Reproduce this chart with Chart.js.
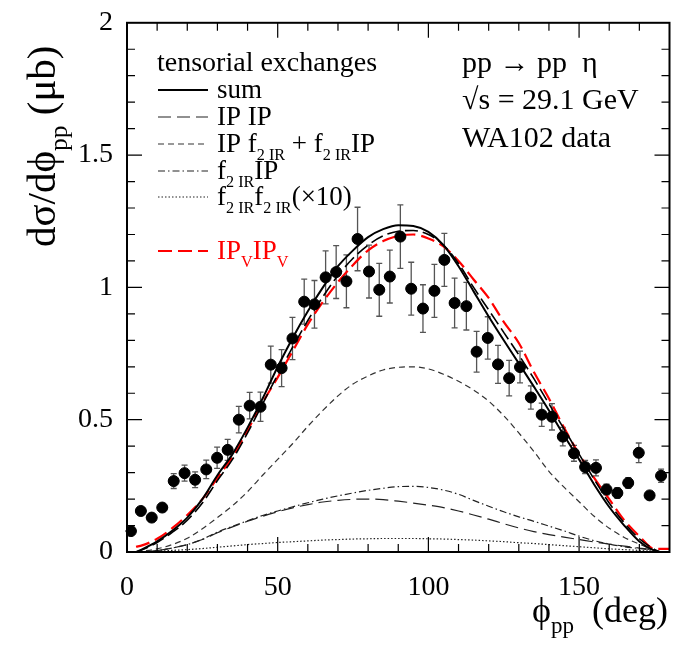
<!DOCTYPE html>
<html>
<head>
<meta charset="utf-8">
<script src="https://cdn.jsdelivr.net/npm/chart.js@4"></script>
<style>
  body { margin: 0; background: #fff; }
  canvas { display: block; }
</style>
</head>
<body>
<canvas id="chart" width="676" height="648"></canvas>
<script>
// WA102 data points (phi_pp in deg, dsigma/dphi in mub, stat. error)
const dataPhi = [1.3, 4.6, 8.2, 11.7, 15.5, 19.1, 22.6, 26.3, 29.9, 33.4, 37.1, 40.7, 44.3, 47.7, 51.3, 54.9, 58.8, 62.2, 65.9, 69.4,
  72.8, 76.5, 80.3, 83.7, 87.2, 90.7, 94.3, 98.2, 102.0, 105.3, 108.7, 112.6, 116.0, 119.7, 123.1, 126.8, 130.4, 134.0, 137.6, 141.0,
  144.6, 148.3, 152.0, 155.6, 159.1, 162.7, 166.3, 169.8, 173.4, 177.2];
const dataVal = [0.079, 0.155, 0.130, 0.168, 0.268, 0.298, 0.273, 0.312, 0.356, 0.386, 0.500, 0.553, 0.549, 0.708, 0.695, 0.807, 0.946, 0.936, 1.038, 1.058,
  1.023, 1.183, 1.060, 0.991, 1.041, 1.192, 0.995, 0.920, 0.987, 1.104, 0.941, 0.929, 0.757, 0.809, 0.709, 0.657, 0.699, 0.584, 0.519, 0.511,
  0.436, 0.373, 0.321, 0.318, 0.236, 0.223, 0.261, 0.375, 0.214, 0.288];
const dataErr = [0.012, 0.012, 0.012, 0.012, 0.028, 0.03, 0.03, 0.035, 0.04, 0.04, 0.05, 0.05, 0.055, 0.07, 0.07, 0.08, 0.085, 0.09, 0.1, 0.1,
  0.1, 0.12, 0.1, 0.1, 0.1, 0.12, 0.1, 0.09, 0.1, 0.1, 0.094, 0.09, 0.077, 0.08, 0.072, 0.067, 0.06, 0.044, 0.044, 0.05,
  0.035, 0.03, 0.025, 0.03, 0.02, 0.02, 0.02, 0.037, 0.015, 0.025];

// model curves, sampled on a common phi grid
const curvePhi = [3, 5, 10, 15, 20, 25, 30, 35, 40, 45, 50, 55, 60, 65, 70, 75, 80, 85, 90, 95,
  100, 105, 110, 115, 120, 125, 130, 135, 140, 145, 150, 155, 160, 165, 170, 175, 177, 180];
const sumVals = [0, 0.01, 0.04, 0.08, 0.13, 0.2, 0.29, 0.37, 0.47, 0.58, 0.70, 0.81, 0.91, 1.0, 1.08, 1.14, 1.19, 1.22, 1.235, 1.232,
  1.21, 1.16, 1.08, 0.985, 0.89, 0.80, 0.713, 0.625, 0.535, 0.44, 0.35, 0.255, 0.17, 0.10, 0.04, 0.005, 0, null];
const sumBVals = [0, 0.008, 0.036, 0.074, 0.12, 0.185, 0.27, 0.35, 0.45, 0.56, 0.67, 0.775, 0.875, 0.965, 1.045, 1.11, 1.16, 1.195, 1.212, 1.215,
  1.2, 1.16, 1.09, 1.0, 0.915, 0.83, 0.745, 0.655, 0.56, 0.465, 0.37, 0.275, 0.185, 0.11, 0.05, 0.01, 0, null];
const ipipVals = [0, 0.001, 0.005, 0.015, 0.028, 0.047, 0.073, 0.095, 0.116, 0.135, 0.152, 0.167, 0.179, 0.189, 0.195, 0.199, 0.2, 0.198, 0.192, 0.185,
  0.177, 0.168, 0.155, 0.14, 0.124, 0.107, 0.091, 0.077, 0.066, 0.056, 0.047, 0.038, 0.03, 0.022, 0.015, 0.006, 0, null];
const ipf2Vals = [0, 0.003, 0.012, 0.028, 0.052, 0.088, 0.13, 0.175, 0.228, 0.29, 0.35, 0.41, 0.475, 0.535, 0.59, 0.635, 0.665, 0.688, 0.698, 0.7,
  0.692, 0.672, 0.645, 0.612, 0.57, 0.515, 0.45, 0.38, 0.305, 0.245, 0.19, 0.135, 0.09, 0.055, 0.03, 0.006, 0, null];
const f2ipVals = [0, 0.001, 0.005, 0.015, 0.028, 0.048, 0.075, 0.097, 0.118, 0.138, 0.155, 0.171, 0.186, 0.2, 0.212, 0.223, 0.233, 0.241, 0.247, 0.248,
  0.244, 0.234, 0.218, 0.195, 0.173, 0.152, 0.133, 0.116, 0.098, 0.08, 0.06, 0.043, 0.03, 0.02, 0.013, 0.005, 0, null];
const f2f2Vals = [0, 0.001, 0.003, 0.006, 0.009, 0.013, 0.018, 0.023, 0.028, 0.032, 0.036, 0.039, 0.042, 0.045, 0.047, 0.049, 0.05, 0.051, 0.051, 0.051,
  0.05, 0.049, 0.047, 0.045, 0.042, 0.039, 0.035, 0.032, 0.028, 0.024, 0.02, 0.016, 0.012, 0.009, 0.006, 0.002, 0, null];
const vecVals = [0.02, 0.025, 0.05, 0.09, 0.14, 0.2, 0.28, 0.36, 0.46, 0.565, 0.66, 0.76, 0.86, 0.945, 1.02, 1.085, 1.14, 1.175, 1.195, 1.2,
  1.185, 1.155, 1.1, 1.03, 0.96, 0.87, 0.79, 0.68, 0.58, 0.47, 0.37, 0.28, 0.2, 0.12, 0.06, 0.012, 0.012, 0.012];

const xTicks = [0, 50, 100, 150];
const yTicks = [0, 0.5, 1, 1.5, 2];

const SERIF = "'Liberation Serif', 'DejaVu Serif', serif";

function pairs(xs, ys) {
  return xs.map((x, i) => ({ x: x, y: ys[i] })).filter(p => p.y !== null);
}

function curve(label, vals, color, width, dash) {
  return {
    label: label,
    data: pairs(curvePhi, vals),
    showLine: true,
    borderColor: color,
    borderWidth: width,
    borderDash: dash,
    pointRadius: 0,
    fill: false,
    cubicInterpolationMode: 'monotone'
  };
}

const datasets = [
  {
    label: 'WA102 data',
    data: pairs(dataPhi, dataVal),
    backgroundColor: '#000',
    borderColor: '#000',
    pointRadius: 5.5,
    pointStyle: 'circle',
    showLine: false,
    order: 0
  },
  curve('sum', sumVals, '#000', 2, []),
  curve('sum (alt)', sumBVals, '#000', 1.6, [13, 5]),
  curve('IP IP', ipipVals, '#222', 1.2, [13, 6]),
  curve('IP f2 + f2 IP', ipf2Vals, '#333', 1.2, [6, 4]),
  curve('f2 IP', f2ipVals, '#222', 1.2, [7, 3, 1.5, 3]),
  curve('f2 f2 (x10)', f2f2Vals, '#222', 1.2, [1.5, 2]),
  curve('IPv IPv', vecVals, '#ff0000', 2.2, [14, 6])
];
datasets.forEach((d, i) => { if (d.order === undefined) d.order = i; });

// rich text: parts = [[text, 'n' | 's']]
function drawRich(ctx, parts, x, y, size, subScale) {
  const ss = subScale || 0.64;
  let cx = x;
  parts.forEach(([t, kind]) => {
    const fs = kind === 's' ? size * ss : size;
    ctx.font = fs + 'px ' + SERIF;
    const dy = kind === 's' ? size * 0.3 : 0;
    ctx.fillText(t, cx, y + dy);
    cx += ctx.measureText(t).width;
  });
  return cx - x;
}

const legendRows = [
  { ds: 1, y: 90, parts: [['sum', 'n']] },
  { ds: 3, y: 117, parts: [['IP IP', 'n']] },
  { ds: 4, y: 144, parts: [['IP f', 'n'], ['2 IR', 's'], [' + f', 'n'], ['2 IR', 's'], ['IP', 'n']] },
  { ds: 5, y: 171, parts: [['f', 'n'], ['2 IR', 's'], ['IP', 'n']] },
  { ds: 6, y: 197, parts: [['f', 'n'], ['2 IR', 's'], ['f', 'n'], ['2 IR', 's'], ['(\u00d710)', 'n']] },
  { ds: 7, y: 251, parts: [['IP', 'n'], ['V', 's'], ['IP', 'n'], ['V', 's']], color: '#ff0000' }
];

const rootStyle = {
  id: 'rootStyle',
  beforeDatasetsDraw(chart) {
    const ctx = chart.ctx;
    const xs = chart.scales.x, ys = chart.scales.y;
    ctx.save();
    dataPhi.forEach((phi, i) => {
      const px = xs.getPixelForValue(phi);
      const y0 = ys.getPixelForValue(dataVal[i] - dataErr[i]);
      const y1 = ys.getPixelForValue(dataVal[i] + dataErr[i]);
      ctx.strokeStyle = '#555';
      ctx.lineWidth = 1.3;
      ctx.beginPath();
      ctx.moveTo(px, y0); ctx.lineTo(px, y1);
      ctx.moveTo(px - 3, y0); ctx.lineTo(px + 3, y0);
      ctx.moveTo(px - 3, y1); ctx.lineTo(px + 3, y1);
      ctx.stroke();
      const py = ys.getPixelForValue(dataVal[i]);
      ctx.strokeStyle = '#000';
      ctx.lineWidth = 2;
      ctx.beginPath();
      ctx.moveTo(xs.getPixelForValue(phi - 1.8), py);
      ctx.lineTo(xs.getPixelForValue(phi + 1.8), py);
      ctx.stroke();
    });
    ctx.restore();
  },
  afterDraw(chart) {
    const ctx = chart.ctx;
    const a = chart.chartArea;
    const xs = chart.scales.x, ys = chart.scales.y;
    ctx.save();
    // frame
    ctx.strokeStyle = '#000';
    ctx.lineWidth = 2;
    ctx.strokeRect(a.left, a.top, a.right - a.left, a.bottom - a.top);
    // inward ticks
    ctx.lineWidth = 1.2;
    ctx.beginPath();
    for (let v = 10; v < 180; v += 10) {
      const len = v % 50 === 0 ? 15 : 8;
      const px = xs.getPixelForValue(v);
      ctx.moveTo(px, a.bottom); ctx.lineTo(px, a.bottom - len);
      ctx.moveTo(px, a.top); ctx.lineTo(px, a.top + len);
    }
    for (let k = 1; k < 20; k++) {
      const len = k % 5 === 0 ? 15 : 8;
      const py = ys.getPixelForValue(k / 10);
      ctx.moveTo(a.left, py); ctx.lineTo(a.left + len, py);
      ctx.moveTo(a.right, py); ctx.lineTo(a.right - len, py);
    }
    ctx.stroke();

    // legend
    ctx.fillStyle = '#000';
    ctx.textBaseline = 'alphabetic';
    ctx.textAlign = 'left';
    ctx.font = '28px ' + SERIF;
    ctx.fillText('tensorial exchanges', 157, 71);
    legendRows.forEach(r => {
      const d = chart.data.datasets[r.ds];
      ctx.strokeStyle = d.borderColor;
      ctx.lineWidth = d.borderWidth;
      ctx.setLineDash(d.borderDash);
      ctx.beginPath();
      ctx.moveTo(158, r.y); ctx.lineTo(208, r.y);
      ctx.stroke();
      ctx.setLineDash([]);
      ctx.fillStyle = r.color || '#000';
      drawRich(ctx, r.parts, 217, r.y + 8, 27, 0.6);
    });

    // reaction labels
    ctx.fillStyle = '#000';
    ctx.font = '30px ' + SERIF;
    ctx.fillText('pp \u2192 pp  \u03b7', 462, 72);
    ctx.fillText('\u221as = 29.1 GeV', 462, 109);
    ctx.fillText('WA102 data', 462, 147);

    // axis titles
    drawRich(ctx, [['\u03d5', 'n'], ['pp', 's'], ['  (deg)', 'n']], 532, 622, 36);
    ctx.save();
    ctx.translate(55, 247);
    ctx.rotate(-Math.PI / 2);
    drawRich(ctx, [['d\u03c3/d\u03d5', 'n'], ['pp', 's'], [' (\u03bcb)', 'n']], 0, 0, 41, 0.62);
    ctx.restore();
    ctx.restore();
  }
};

const tickFont = { family: SERIF, size: 28 };

new Chart(document.getElementById('chart').getContext('2d'), {
  type: 'scatter',
  data: { datasets: datasets },
  options: {
    responsive: false,
    animation: false,
    layout: { padding: { top: 19, right: 2, left: 0, bottom: 0 } },
    plugins: { legend: { display: false }, tooltip: { enabled: false } },
    scales: {
      x: {
        type: 'linear', min: 0, max: 180,
        afterBuildTicks: s => { s.ticks = xTicks.map(v => ({ value: v })); },
        afterFit: s => { s.height = 96; },
        grid: { display: false }, border: { display: false },
        ticks: { font: tickFont, color: '#000', padding: 11, maxRotation: 0, callback: v => String(v) }
      },
      y: {
        type: 'linear', min: 0, max: 2,
        afterBuildTicks: s => { s.ticks = yTicks.map(v => ({ value: v })); },
        afterFit: s => { s.width = 127; },
        grid: { display: false }, border: { display: false },
        ticks: { font: tickFont, color: '#000', padding: 6, callback: v => String(v) }
      }
    }
  },
  plugins: [rootStyle]
});
</script>
</body>
</html>
